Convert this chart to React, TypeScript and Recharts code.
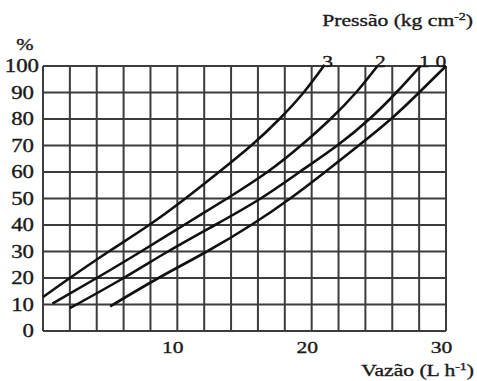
import React from "react";
import {
  LineChart, Line, XAxis, YAxis, CartesianGrid, ReferenceDot, Customized
} from "recharts";

// eixo x: vazão (L/h), grade a cada 2, rótulos só em 10/20/30
const flowTicks = [0, 2, 4, 6, 8, 10, 12, 14, 16, 18, 20, 22, 24, 26, 28, 30];
const flowLabels = [10, 20, 30];
const pctTicks = [0, 10, 20, 30, 40, 50, 60, 70, 80, 90, 100];

// curvas por pressão (kg cm-2)
const flow3 = [0, 2.0, 4.9, 7.9, 10.6, 13.1, 15.5, 17.6, 19.4, 20.9];
const pct3 = [12.8, 20, 30, 40, 50, 60, 70, 80, 90, 100];

const flow2 = [0.7, 4.0, 7.3, 10.5, 13.7, 16.7, 19.2, 21.4, 23.3, 24.9];
const pct2 = [10.3, 20, 30, 40, 50, 60, 70, 80, 90, 100];

const flow1 = [2.0, 6.0, 9.3, 12.8, 16.2, 19.1, 21.9, 24.3, 26.3, 28.1];
const pct1 = [8.6, 20, 30, 40, 50, 60, 70, 80, 90, 100];

const flow0 = [5.0, 8.6, 12.2, 15.5, 18.4, 21.0, 23.5, 25.9, 28.0, 30.0];
const pct0 = [9.3, 20, 30, 40, 50, 60, 70, 80, 90, 100];

const pressures = ["3", "2", "1", "0"];

const toPoints = (flow: number[], pct: number[]) =>
  flow.map((x, i) => ({ flow: x, pct: pct[i] }));

const curves = [
  { name: pressures[0], data: toPoints(flow3, pct3), dx: 4 },
  { name: pressures[1], data: toPoints(flow2, pct2), dx: 3 },
  { name: pressures[2], data: toPoints(flow1, pct1), dx: 4 },
  { name: pressures[3], data: toPoints(flow0, pct0), dx: -5 },
];

const ink = "#1a1a1a";
const font = "Liberation Serif";
// a figura original é esticada na horizontal
const stretch = 1.27;
// traço leve para engrossar o texto como no original
const heavy = { stroke: ink, strokeWidth: 0.35 };

const YTick = (props: any) => {
  const { x, y, payload } = props;
  const s = String(payload.value);
  const tx = s.length > 2 ? x + 5 : x;
  return (
    <text
      x={0} y={0} dy="0.36em"
      transform={`translate(${tx},${y}) scale(${stretch},1)`}
      textAnchor="end" fontSize={18} fill={ink} fontFamily={font} {...heavy}
    >
      {s}
    </text>
  );
};

const XTick = (props: any) => {
  const { x, y, payload } = props;
  if (!flowLabels.includes(payload.value)) return <g />;
  return (
    <text
      x={0} y={0} dy="0.71em"
      transform={`translate(${x - 4.5},${y}) scale(${stretch},1)`}
      textAnchor="middle" fontSize={17} fill={ink} fontFamily={font} {...heavy}
    >
      {String(payload.value)}
    </text>
  );
};

const EndLabel = (props: any) => {
  const { viewBox, value, dx } = props;
  const cx = viewBox.x + viewBox.width / 2 + dx;
  const cy = viewBox.y + 1;
  return (
    <text
      x={0} y={0}
      transform={`translate(${cx},${cy}) scale(${stretch},1)`}
      textAnchor="middle" fontSize={17} fill={ink} fontFamily={font} {...heavy}
    >
      {value}
    </text>
  );
};

const Titles = () => (
  <g fill={ink} fontFamily={font} {...heavy}>
    <text x={0} y={0} transform={`translate(25,50) scale(1.3,1)`} fontSize={16} textAnchor="middle">%</text>
    <text x={0} y={0} transform={`translate(473,26) scale(${stretch},1)`} fontSize={17} textAnchor="end">
      Pressão (kg cm<tspan dy={-6} fontSize={11}>-2</tspan>
      <tspan dy={6}>)</tspan>
    </text>
    <text x={0} y={0} transform={`translate(474,376) scale(${stretch},1)`} fontSize={17} textAnchor="end">
      Vazão (L h<tspan dy={-6} fontSize={11}>-1</tspan>
      <tspan dy={6}>)</tspan>
    </text>
  </g>
);

export default function App() {
  return (
    <div
      style={{
        position: "absolute", left: 0, top: 0, width: 477, height: 381,
        background: "#fff",
      }}
    >
      <LineChart
        width={477}
        height={381}
        margin={{ top: 66, right: 31, bottom: 20, left: 0 }}
      >
        <CartesianGrid stroke="#3c3c3c" strokeWidth={2} />
        <XAxis
          type="number"
          dataKey="flow"
          domain={[0, 30]}
          ticks={flowTicks}
          interval={0}
          axisLine={false}
          tickLine={false}
          tickSize={0}
          tickMargin={10}
          height={30}
          tick={<XTick />}
        />
        <YAxis
          type="number"
          dataKey="pct"
          domain={[0, 100]}
          ticks={pctTicks}
          interval={0}
          axisLine={false}
          tickLine={false}
          tickSize={0}
          tickMargin={9}
          width={43}
          tick={<YTick />}
        />
        {curves.map((c) => (
          <Line
            key={c.name}
            data={c.data}
            dataKey="pct"
            type="natural"
            stroke="#111"
            strokeWidth={2.6}
            dot={false}
            activeDot={false}
            isAnimationActive={false}
          />
        ))}
        {curves.map((c) => {
          const last = c.data[c.data.length - 1];
          return (
            <ReferenceDot
              key={"lbl" + c.name}
              x={last.flow}
              y={last.pct}
              r={0}
              fill="none"
              stroke="none"
              label={<EndLabel value={c.name} dx={c.dx} />}
            />
          );
        })}
        <Customized component={Titles} />
      </LineChart>
    </div>
  );
}
